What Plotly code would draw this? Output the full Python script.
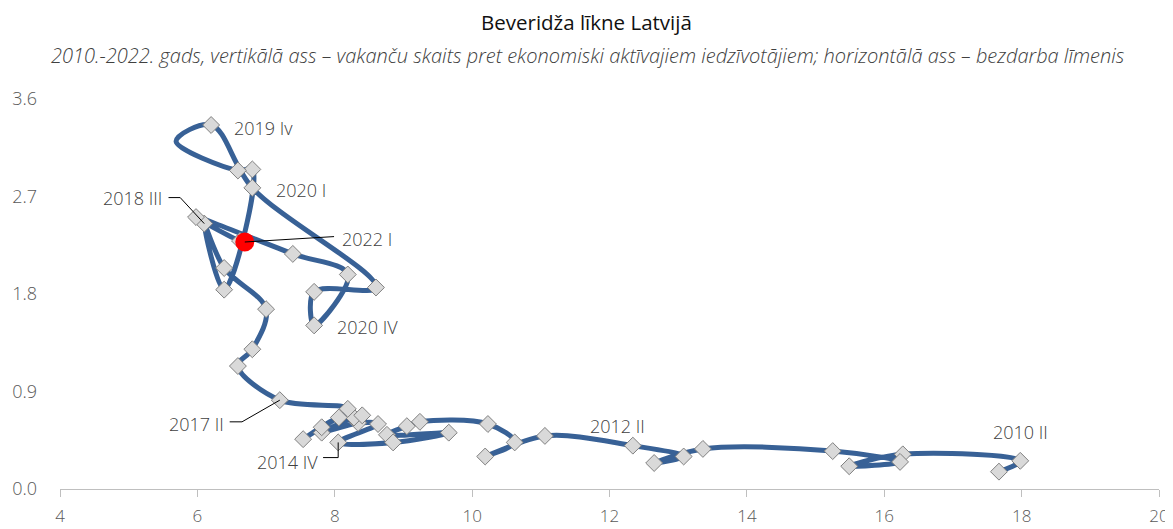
import plotly.graph_objs as go

years = list(range(2010, 2023))
romans = ['I', 'II', 'III', 'IV']
quarters = [f"{y} {r}" for y in years for r in romans][:49]

# bezdarba līmenis, %
unemployment = [
    17.67, 17.98, 16.27, 15.49, 16.23, 15.25, 13.36, 12.65, 13.08, 12.34,
    11.06, 10.19, 10.62, 10.23, 9.24, 9.05, 8.76, 9.66, 8.85, 8.05,
    8.63, 8.34, 7.81, 8.28, 8.40, 8.06, 7.54, 7.81, 8.19, 7.20,
    6.59, 6.80, 7.00, 6.39, 6.10, 6.39, 6.80, 6.59, 5.69, 6.20,
    6.80, 8.60, 7.70, 7.70, 8.19, 7.39, 5.98, 6.62, 6.69,
]
# vakanču skaits pret ekonomiski aktīvajiem iedzīvotājiem, %
vacancies = [
    0.16, 0.26, 0.32, 0.21, 0.25, 0.35, 0.37, 0.24, 0.30, 0.40,
    0.49, 0.30, 0.43, 0.60, 0.62, 0.58, 0.50, 0.52, 0.43, 0.43,
    0.60, 0.61, 0.52, 0.66, 0.68, 0.66, 0.46, 0.57, 0.74, 0.82,
    1.135, 1.29, 1.66, 2.04, 2.45, 1.84, 2.95, 2.94, 3.21, 3.36,
    2.78, 1.86, 1.82, 1.51, 1.98, 2.17, 2.51, 2.29, 2.28,
]
hidden_marker = ['2019 III']
last_quarter = '2022 I'

title = "Beveridža līkne Latvijā"
subtitle = ("2010.-2022. gads, vertikālā ass – vakanču skaits pret ekonomiski aktīvajiem "
            "iedzīvotājiem; horizontālā ass – bezdarba līmenis")

line_color = '#386196'
text_color = '#404040'
font_family = 'Open Sans'

# the page puts the figure 8px in from the top-left corner
W, H = 1165, 521
L, R, T, B = 52, 14, 91, 40

fig = go.Figure()

fig.add_trace(go.Scatter(
    x=unemployment, y=vacancies,
    mode='lines',
    line=dict(color=line_color, width=5, shape='spline', smoothing=1.0),
    hoverinfo='skip', showlegend=False
))

mx = [u for u, q in zip(unemployment, quarters) if q not in hidden_marker and q != last_quarter]
my = [v for v, q in zip(vacancies, quarters) if q not in hidden_marker and q != last_quarter]
fig.add_trace(go.Scatter(
    x=mx, y=my, mode='markers',
    marker=dict(symbol='diamond', size=13, color='#d9d9d9',
                line=dict(color='#808080', width=1)),
    showlegend=False
))

li = quarters.index(last_quarter)
fig.add_trace(go.Scatter(
    x=[unemployment[li]], y=[vacancies[li]], mode='markers',
    marker=dict(symbol='circle', size=19, color='#ff0000'),
    showlegend=False
))

def pt(q):
    i = quarters.index(q)
    return unemployment[i], vacancies[i]

# leader lines: (quarter, elbow offset, end offset) in axis units
leaders = [
    ('2018 III', (-0.35, 0.24), (-0.52, 0.24)),
    ('2017 II', (-0.55, -0.20), (-0.73, -0.20)),
    ('2014 IV', (0.0, -0.14), (-0.22, -0.14)),
    ('2022 I', (1.30, 0.05), (1.30, 0.05)),
]
for q, el, en in leaders:
    x0, y0 = pt(q)
    fig.add_trace(go.Scatter(
        x=[x0, x0 + el[0], x0 + en[0]], y=[y0, y0 + el[1], y0 + en[1]],
        mode='lines', line=dict(color='black', width=1),
        hoverinfo='skip', showlegend=False
    ))

# label text, offset from the point, anchor
labels = [
    ('2010 II', '2010 II', (0.0, 0.27), 'center'),
    ('2012 II', '2012 II', (-0.23, 0.18), 'center'),
    ('2014 IV', '2014 IV', (-0.27, -0.18), 'right'),
    ('2017 II', '2017 II', (-0.78, -0.22), 'right'),
    ('2018 III', '2018 III', (-0.58, 0.24), 'right'),
    ('2019 IV', '2019 Iv', (0.30, -0.03), 'left'),
    ('2020 I', '2020 I', (0.32, -0.02), 'left'),
    ('2020 IV', '2020 IV', (0.31, -0.01), 'left'),
    ('2022 I', '2022 I', (1.38, 0.03), 'left'),
]
for q, txt, off, anchor in labels:
    x0, y0 = pt(q)
    fig.add_annotation(
        x=x0 + off[0], y=y0 + off[1], text=txt, showarrow=False,
        xanchor=anchor, yanchor='middle',
        font=dict(family=font_family, size=18, color=text_color, weight=300)
    )

pw, ph = W - L - R, H - T - B
fig.add_annotation(
    x=(578 - L) / pw, y=1 + (T - 14) / ph, xref='paper', yref='paper',
    text=title, showarrow=False, yanchor='middle', xanchor='center',
    font=dict(family=font_family, size=20.5, color='#111111')
)
fig.add_annotation(
    x=(580 - L) / pw, y=1 + (T - 48) / ph, xref='paper', yref='paper',
    text=subtitle, showarrow=False, yanchor='middle', xanchor='center',
    font=dict(family=font_family, size=20, color=text_color, style='italic', weight=300)
)

fig.update_layout(
    width=W, height=H,
    plot_bgcolor='white', paper_bgcolor='white',
    margin=dict(l=L, r=R, t=T, b=B),
    xaxis=dict(
        range=[4, 20], dtick=2, tick0=4,
        showgrid=False, zeroline=False,
        showline=True, linecolor='#bfbfbf', linewidth=1,
        ticks='outside', ticklen=7, tickcolor='#bfbfbf',
        ticklabelstandoff=5, automargin=False,
        tickfont=dict(family=font_family, size=17, color='#595959', weight=300)
    ),
    yaxis=dict(
        range=[0, 3.6], dtick=0.9, tick0=0, tickformat='.1f',
        showgrid=False, zeroline=False, showline=False,
        ticklabelstandoff=22, automargin=False,
        tickfont=dict(family=font_family, size=18, color='#595959', weight=300)
    ),
)

fig.write_html("out.html")
